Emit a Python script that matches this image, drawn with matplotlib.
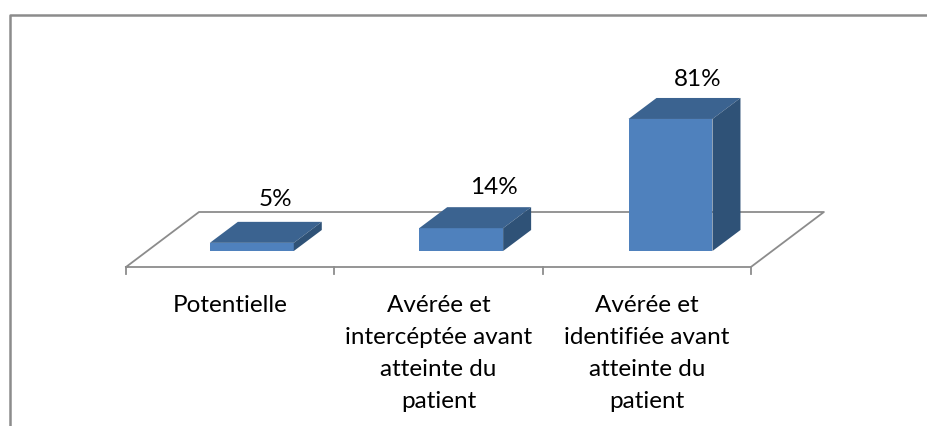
import matplotlib
matplotlib.use('Agg')
import matplotlib.pyplot as plt
from matplotlib.patches import Polygon

categories = ['Potentielle',
              'Avérée et\nintercéptée avant\natteinte du\npatient',
              'Avérée et\nidentifiée avant\natteinte du\npatient']
values = [5, 14, 81]
labels = ['5%', '14%', '81%']

plt.rcParams['font.family'] = ['Lato', 'DejaVu Sans']

W, H = 928, 426
fig = plt.figure(figsize=(W / 100, H / 100), dpi=100)
ax = fig.add_axes([0, 0, 1, 1])

# one category = 208.3 px, one percent = 1.63 px
ax.set_xlim(-0.5 - 126 / 208.3, -0.5 + (W - 126) / 208.3)
ax.set_ylim(-(H - 251) / 1.63, 251 / 1.63)
ax.axis('off')

bar_w = 0.403
bar_step = 1.005
dx, dy = 28 / 208.3, 21 / 1.63
offset = 0.104
floor_y = -16 / 1.63
floor_dx, floor_dy = 73 / 208.3, 55 / 1.63
gray = '#8c8c8c'
# the value labels are not placed evenly over the bars
label_dx = [0.115, 0.155, 0.13]
label_dy = [7, 5.5, 5]

# floor
left, right = -0.5, len(values) - 0.5
ax.plot([left, left + floor_dx, right + floor_dx, right, left],
        [floor_y, floor_y + floor_dy, floor_y + floor_dy, floor_y, floor_y],
        color=gray, lw=1.3, zorder=1)
for i in range(len(values) + 1):
    ax.plot([i - 0.5, i - 0.5], [floor_y, floor_y - 7 / 1.63], color=gray, lw=1.3, zorder=1)

# bars
for i, v in enumerate(values):
    x0 = i * bar_step + offset - bar_w / 2
    x1 = x0 + bar_w
    ax.add_patch(Polygon([(x0, 0), (x1, 0), (x1, v), (x0, v)], fc='#4f81bd', ec='none', zorder=3))
    ax.add_patch(Polygon([(x0, v), (x1, v), (x1 + dx, v + dy), (x0 + dx, v + dy)],
                         fc='#3b6390', ec='none', zorder=3))
    ax.add_patch(Polygon([(x1, 0), (x1 + dx, dy), (x1 + dx, v + dy), (x1, v)],
                         fc='#2f5277', ec='none', zorder=3))
    ax.text(i * bar_step + offset + label_dx[i], v + dy + label_dy[i], labels[i],
            ha='center', va='bottom', fontsize=17.5, color='black')

for i, c in enumerate(categories):
    ax.text(i, floor_y - 17, c, ha='center', va='top', fontsize=17.5,
            color='black', linespacing=1.66)

# outer frame
ax.plot([9.5 / 208.3 - 0.5 - 126 / 208.3] * 2 + [W / 208.3 - 0.5 - 126 / 208.3],
        [-(H - 251) / 1.63, (251 - 15) / 1.63, (251 - 15) / 1.63], color=gray, lw=1.8, zorder=2)

fig.savefig('out.png', dpi=100)
